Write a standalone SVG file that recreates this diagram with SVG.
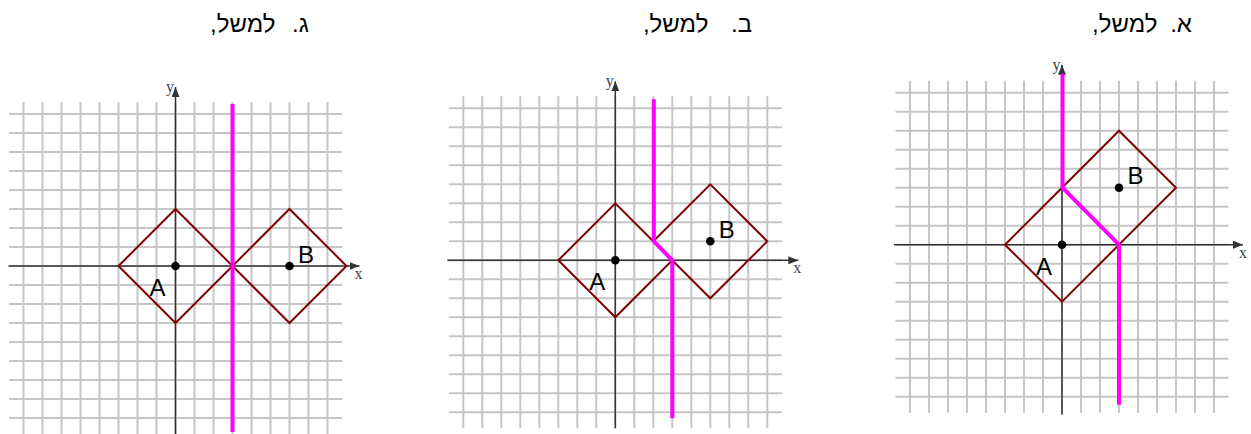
<svg xmlns="http://www.w3.org/2000/svg" xmlns:xlink="http://www.w3.org/1999/xlink" width="1251" height="434" viewBox="0 0 1251 434">
<style>
.bg{fill:#ffffff}
.grid{fill:none;stroke:#c6c6c6;stroke-width:2}
.axis{fill:none;stroke:#333333;stroke-width:1.5}
.sq{fill:none;stroke:#7f0000;stroke-width:2}
.path{fill:none;stroke:#ff00ff;stroke-width:4;stroke-linejoin:miter}
.dot{fill:#000000}
.lbl{font-family:"Liberation Sans",Arial,"DejaVu Sans",sans-serif;font-size:24px;fill:#000000}
.ax{font-family:"Liberation Serif","Times New Roman",serif;font-size:16px;fill:#3a4050}
.hdr{font-family:"Liberation Sans",Arial,"DejaVu Sans",sans-serif;font-size:24px;fill:#000000}
</style>
<defs>
<marker id="arr" viewBox="0 0 10 8" refX="10" refY="4" markerWidth="10" markerHeight="8" markerUnits="userSpaceOnUse" orient="auto">
<path d="M0,0 L10,4 L0,8 z" fill="#333333"/>
</marker>
<path id="gridp" class="grid" d="M-152 -164V168M-133 -164V168M-114 -164V168M-95 -164V168M-76 -164V168M-57 -164V168M-38 -164V168M-19 -164V168M0 -164V168M19 -164V168M38 -164V168M57 -164V168M76 -164V168M95 -164V168M114 -164V168M133 -164V168M152 -164V168M-166.5 -152H166.5M-166.5 -133H166.5M-166.5 -114H166.5M-166.5 -95H166.5M-166.5 -76H166.5M-166.5 -57H166.5M-166.5 -38H166.5M-166.5 -19H166.5M-166.5 0H166.5M-166.5 19H166.5M-166.5 38H166.5M-166.5 57H166.5M-166.5 76H166.5M-166.5 95H166.5M-166.5 114H166.5M-166.5 133H166.5M-166.5 152H166.5"/>
<path id="dia" class="sq" d="M-57 0L0 -57L57 0L0 57Z"/>
</defs>
<rect class="bg" x="0" y="0" width="1251" height="434"/>

<!-- Headers -->
<g id="headers">
<text class="hdr" x="259.5" y="32" direction="rtl" text-anchor="middle" style="word-spacing:10px">ג. למשל,</text>
<text class="hdr" x="697.5" y="32" direction="rtl" text-anchor="middle" style="word-spacing:16px">ב. למשל,</text>
<text class="hdr" x="1142" y="32" direction="rtl" text-anchor="middle" style="word-spacing:6px">א. למשל,</text>
</g>

<!-- Panel ג -->
<g id="panel-gimel" transform="translate(175.5,266)">
<use xlink:href="#gridp"/>
<g id="axes-gimel">
<path class="axis" d="M-167 0H184" marker-end="url(#arr)"/>
<path class="axis" d="M0 168V-179" marker-end="url(#arr)"/>
<text class="ax" x="179" y="13">x</text>
<text class="ax" x="-9.5" y="-174">y</text>
</g>
<g id="gimel-A"><use xlink:href="#dia"/><circle class="dot" cx="0" cy="0" r="4.3"/><text class="lbl" x="-26" y="30">A</text></g>
<g id="gimel-B"><use xlink:href="#dia" transform="translate(114,0)"/><circle class="dot" cx="114" cy="0" r="4.3"/><text class="lbl" x="122.5" y="-3">B</text></g>
<g id="connectors-gimel"><path class="path" d="M57 -162V166"/></g>
</g>

<!-- Panel ב -->
<g id="panel-bet" transform="translate(615.3,260.3)">
<use xlink:href="#gridp"/>
<g id="axes-bet">
<path class="axis" d="M-168 0H183" marker-end="url(#arr)"/>
<path class="axis" d="M0 168V-179" marker-end="url(#arr)"/>
<text class="ax" x="178" y="13">x</text>
<text class="ax" x="-9.5" y="-174">y</text>
</g>
<g id="bet-A"><use xlink:href="#dia"/><circle class="dot" cx="0" cy="0" r="4.3"/><text class="lbl" x="-26" y="30">A</text></g>
<g id="bet-B"><use xlink:href="#dia" transform="translate(95,-19)"/><circle class="dot" cx="95" cy="-19" r="4.3"/><text class="lbl" x="103.5" y="-22">B</text></g>
<g id="connectors-bet"><path class="path" d="M38.5 -161V-19L57 0V158"/></g>
</g>

<!-- Panel א -->
<g id="panel-alef" transform="translate(1062,244.7)">
<use xlink:href="#gridp"/>
<g id="axes-alef">
<path class="axis" d="M-168 0H181" marker-end="url(#arr)"/>
<path class="axis" d="M0 170V-180" marker-end="url(#arr)"/>
<text class="ax" x="177" y="13.5">x</text>
<text class="ax" x="-9.5" y="-174.5">y</text>
</g>
<g id="alef-A"><use xlink:href="#dia"/><circle class="dot" cx="0" cy="0" r="4.3"/><text class="lbl" x="-26" y="30">A</text></g>
<g id="alef-B"><use xlink:href="#dia" transform="translate(57,-57)"/><circle class="dot" cx="57" cy="-57" r="4.3"/><text class="lbl" x="65.5" y="-61">B</text></g>
<g id="connectors-alef"><path class="path" d="M0.5 -171V-57L57 0V160"/></g>
</g>
</svg>
